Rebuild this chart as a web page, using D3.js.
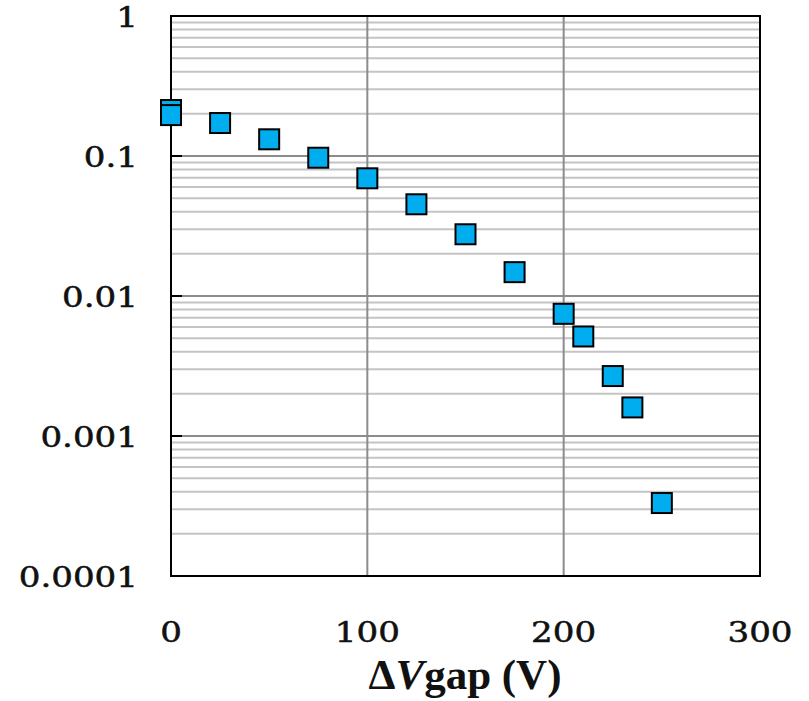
<!DOCTYPE html>
<html><head><meta charset="utf-8">
<script src="https://cdn.jsdelivr.net/npm/d3@7"></script>
<style>body{margin:0;background:#fff}</style>
</head><body><svg id="c" width="809" height="701"></svg>
<script>
const xValues=[0,0,25,50,75,100,125,150,175,200,210,225,235,250];
const yValues=[0.213,0.196,0.172,0.1316,0.0972,0.0693,0.0452,0.0276,0.0148,0.00746,0.00514,0.00268,0.0016,0.000332];
const xTicks=[0,100,200,300];
const xTickLabels=["0","100","200","300"];
const yTicks=[1,0.1,0.01,0.001,0.0001];
const yTickLabels=["1","0.1","0.01","0.001","0.0001"];

const svg=d3.select("#c");
const L=171,R=760,T=16,B=576;
const x=d3.scaleLinear().domain([0,300]).range([L,R]);
const y=d3.scaleLog().domain([1e-4,1]).range([B,T]);

// minor grid
const minor=y.ticks().filter(v=>!yTicks.some(t=>Math.abs(Math.log10(v)-Math.log10(t))<1e-6));
svg.append("g").selectAll("line").data(minor).join("line")
  .attr("x1",L).attr("x2",R).attr("y1",d=>y(d)).attr("y2",d=>y(d))
  .attr("stroke","#c4c4c4").attr("stroke-width",2);
// major grid
svg.append("g").selectAll("line").data(yTicks).join("line")
  .attr("x1",L).attr("x2",R).attr("y1",d=>y(d)).attr("y2",d=>y(d))
  .attr("stroke","#8c8c8c").attr("stroke-width",2);
svg.append("g").selectAll("line").data(xTicks.slice(1,-1)).join("line")
  .attr("x1",d=>x(d)).attr("x2",d=>x(d)).attr("y1",T).attr("y2",B)
  .attr("stroke","#8c8c8c").attr("stroke-width",2);
// inward ticks on left
svg.append("g").selectAll("line").data(yTicks).join("line")
  .attr("x1",L).attr("x2",L+11).attr("y1",d=>y(d)).attr("y2",d=>y(d))
  .attr("stroke","#000").attr("stroke-width",2);
// frame
svg.append("rect").attr("x",L).attr("y",T).attr("width",R-L).attr("height",B-T)
  .attr("fill","none").attr("stroke","#000").attr("stroke-width",2);

// y labels
const yl=svg.append("g").selectAll("g").data(yTicks).join("g")
  .attr("transform",d=>`translate(138,${y(d)+11})`);
yl.append("text").attr("transform","scale(1.24,1)").attr("text-anchor","end")
  .attr("font-family","DejaVu Serif").attr("font-size",27.5).attr("fill","#111")
  .attr("stroke","#111").attr("stroke-width",0.5)
  .text((d,i)=>yTickLabels[i]);
// x labels
const xl=svg.append("g").selectAll("g").data(xTicks).join("g")
  .attr("transform",d=>`translate(${x(d)},642)`);
xl.append("text").attr("transform","scale(1.24,1)").attr("text-anchor","middle")
  .attr("font-family","DejaVu Serif").attr("font-size",27.5).attr("fill","#111")
  .attr("stroke","#111").attr("stroke-width",0.5)
  .text((d,i)=>xTickLabels[i]);

// title
const t=svg.append("text").attr("x",465).attr("y",689).attr("text-anchor","middle")
  .attr("font-family","Liberation Serif").attr("font-weight","bold").attr("font-size",43).attr("fill","#111");
t.append("tspan").text("\u0394");
t.append("tspan").attr("font-style","italic").text("V");
t.append("tspan").text("gap (V)");

// points
const pts=xValues.map((v,i)=>({x:v,y:yValues[i]}));
svg.append("g").selectAll("rect").data(pts).join("rect")
  .attr("x",d=>x(d.x)-10).attr("y",d=>y(d.y)-10).attr("width",20).attr("height",20)
  .attr("fill","#00aeef").attr("stroke","#000").attr("stroke-width",2);
</script></body></html>
